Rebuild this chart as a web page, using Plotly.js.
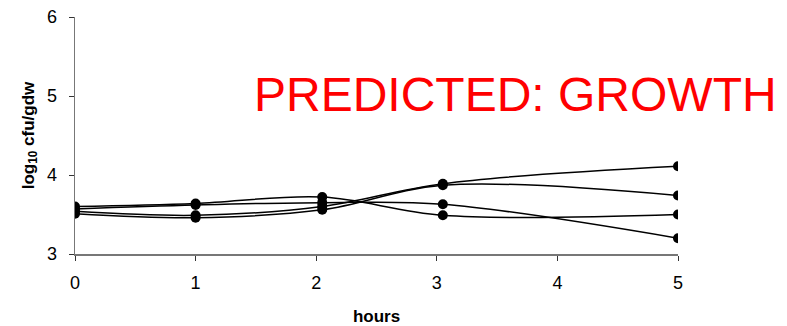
<!DOCTYPE html>
<html>
<head>
<meta charset="utf-8">
<script src="https://cdn.plot.ly/plotly-3.0.1.min.js"></script>
<style>html,body{margin:0;padding:0;background:#fff;}#chart{width:787px;height:326px;}</style>
</head>
<body>
<div id="chart"></div>
<script>
const hours = [0, 1, 2.05, 3.05, 5];
const series1 = [3.60, 3.64, 3.72, 3.49, 3.50];
const series2 = [3.57, 3.62, 3.65, 3.63, 3.20];
const series3 = [3.54, 3.49, 3.60, 3.89, 4.11];
const series4 = [3.51, 3.46, 3.56, 3.87, 3.74];
const xTicks = [0, 1, 2, 3, 4, 5];
const yTicks = [3, 4, 5, 6];
const titleText = 'PREDICTED: GROWTH';

const allSeries = [series1, series2, series3, series4];
const traces = allSeries.map(s => ({
  x: hours, y: s, type: 'scatter', mode: 'lines+markers',
  line: {color: '#000', width: 1.5, shape: 'spline', smoothing: 1},
  marker: {color: '#000', size: 10},
  showlegend: false, hoverinfo: 'skip'
}));

const font = "Arial, 'Liberation Sans', sans-serif";
const layout = {
  width: 787, height: 326,
  margin: {l: 75, r: 109, t: 17, b: 72},
  paper_bgcolor: '#fff', plot_bgcolor: '#fff',
  font: {family: font, color: '#000'},
  xaxis: {
    range: [0, 5], tickvals: xTicks, ticktext: xTicks.map(String),
    showgrid: false, zeroline: false,
    showline: true, linecolor: '#777', linewidth: 1.5,
    ticks: 'outside', ticklen: 5, tickcolor: '#333', tickwidth: 1,
    ticklabelstandoff: 7,
    tickfont: {size: 18, family: font},
    title: {text: '<b>hours</b>', font: {size: 17, family: font}, standoff: 22}
  },
  yaxis: {
    range: [3, 6], tickvals: yTicks, ticktext: yTicks.map(String),
    showgrid: false, zeroline: false,
    showline: true, linecolor: '#777', linewidth: 1.5,
    ticks: 'outside', ticklen: 5, tickcolor: '#333', tickwidth: 1,
    ticklabelstandoff: 8,
    tickfont: {size: 18, family: font},
    title: {text: '<b>log<sub>10</sub> cfu/gdw</b>', font: {size: 17, family: font}, standoff: 8}
  },
  annotations: [{
    x: 1.465, y: 5.02, xref: 'x', yref: 'y', xanchor: 'left', yanchor: 'middle',
    text: titleText, showarrow: false,
    font: {size: 48, color: '#ff0000', family: font}
  }]
};
Plotly.newPlot('chart', traces, layout, {staticPlot: true, displayModeBar: false});
</script>
</body>
</html>
